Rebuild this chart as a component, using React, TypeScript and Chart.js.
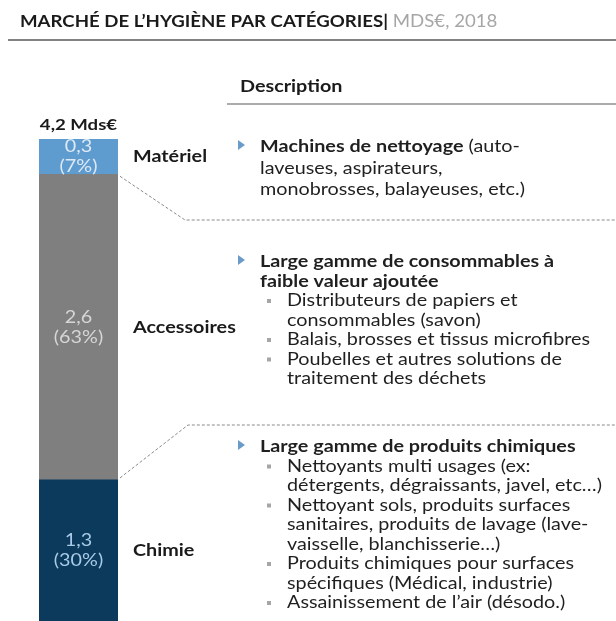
import React, { useEffect, useRef } from "react";
import { Chart, registerables } from "chart.js";

Chart.register(...registerables);

// ---- data ----
const categories = ["Chimie", "Accessoires", "Matériel"];
const values = [1.3, 2.6, 0.3];
const valueLabels = ["1,3", "2,6", "0,3"];
const shareLabels = ["(30%)", "(63%)", "(7%)"];
const totalLabel = "4,2 Mds€";
const titleMain = "MARCHÉ DE L’HYGIÈNE PAR CATÉGORIES|";
const titleSub = " MDS€, 2018";
const descHeader = "Description";

const materielBold = "Machines de nettoyage";
const materielRest = [" (auto-", "laveuses, aspirateurs,", "monobrosses, balayeuses, etc.)"];

const accessoiresHead = ["Large gamme de consommables à", "faible valeur ajoutée"];
const accessoiresBullets = [
  ["Distributeurs de papiers et", "consommables (savon)"],
  ["Balais, brosses et tissus microfibres"],
  ["Poubelles et autres solutions de", "traitement des déchets"],
];

const chimieHead = ["Large gamme de produits chimiques"];
const chimieBullets = [
  ["Nettoyants multi usages (ex:", "détergents, dégraissants, javel, etc…)"],
  ["Nettoyant sols, produits surfaces", "sanitaires, produits de lavage (lave-", "vaisselle, blanchisserie…)"],
  ["Produits chimiques pour surfaces", "spécifiques (Médical, industrie)"],
  ["Assainissement de l’air (désodo.)"],
];

// ---- styles ----
const segColors = ["#0b3a5c", "#7f7f7f", "#5e9bcf"];
const segTextColors = ["#a9cbe6", "#d6d6d6", "#dde9f5"];
const FONT = "Lato, 'Liberation Sans', sans-serif";

export default function App() {
  const ref = useRef<HTMLCanvasElement | null>(null);

  useEffect(() => {
    if (!ref.current) return;

    const overlay = {
      id: "overlay",
      afterDraw(chart: any) {
        const ctx: CanvasRenderingContext2D = chart.ctx;
        const ys = chart.scales.y;
        const area = chart.chartArea;
        const barL = area.left;
        const barR = area.right;
        const barC = (barL + barR) / 2;

        // horizontal stretch factor to mimic the reference typography
        ctx.font = `17px ${FONT}`;
        const sx = 303 / ctx.measureText("Balais, brosses et tissus microfibres").width;
        ctx.font = `bold 17px ${FONT}`;
        const sxTitle = 368 / ctx.measureText(titleMain).width;

        const txt = (t: string, x: number, y: number, font: string, color: string, align: CanvasTextAlign = "left", s = sx) => {
          ctx.save();
          ctx.font = font;
          ctx.fillStyle = color;
          ctx.textBaseline = "middle";
          ctx.textAlign = align;
          ctx.translate(x, y);
          ctx.scale(s, 1);
          ctx.fillText(t, 0, 0);
          const w = ctx.measureText(t).width * s;
          ctx.restore();
          return w;
        };

        // title
        const wMain = txt(titleMain, 20, 22, `bold 17px ${FONT}`, "#1a1a1a", "left", sxTitle);
        txt(titleSub, 20 + wMain, 22, `17px ${FONT}`, "#a6a6a6", "left", sxTitle);
        ctx.save();
        ctx.strokeStyle = "#595959";
        ctx.lineWidth = 1.5;
        ctx.beginPath();
        ctx.moveTo(8, 40);
        ctx.lineTo(616, 40);
        ctx.stroke();
        ctx.restore();

        // description header
        txt(descHeader, 240, 87, `bold 17px ${FONT}`, "#1a1a1a");
        ctx.save();
        ctx.strokeStyle = "#595959";
        ctx.lineWidth = 1.2;
        ctx.beginPath();
        ctx.moveTo(227, 104);
        ctx.lineTo(616, 104);
        ctx.stroke();
        ctx.restore();

        // total
        txt(totalLabel, barC, 125, `bold 16px ${FONT}`, "#1a1a1a", "center");

        // segment labels & category labels
        let cum = 0;
        const boundaries: number[] = [];
        for (let i = 0; i < values.length; i++) {
          const lo = Math.max(cum, ys.min);
          const hi = cum + values[i];
          cum = hi;
          boundaries.push(hi);
          const yc = (ys.getPixelForValue(lo) + ys.getPixelForValue(hi)) / 2;
          txt(valueLabels[i], barC, yc - 10, `17px ${FONT}`, segTextColors[i], "center");
          txt(shareLabels[i], barC, yc + 10, `17px ${FONT}`, segTextColors[i], "center");
          txt(categories[i], 133, yc, `bold 17px ${FONT}`, "#1a1a1a", "left");
        }

        // dotted connectors
        const dotted = (pts: number[][]) => {
          ctx.save();
          ctx.strokeStyle = "#8a8a8a";
          ctx.lineWidth = 1;
          ctx.setLineDash([3, 2]);
          ctx.beginPath();
          ctx.moveTo(pts[0][0], pts[0][1]);
          for (let k = 1; k < pts.length; k++) ctx.lineTo(pts[k][0], pts[k][1]);
          ctx.stroke();
          ctx.restore();
        };
        const yTopAcc = ys.getPixelForValue(boundaries[1]);
        const yTopChim = ys.getPixelForValue(boundaries[0]);
        dotted([[barR + 2, yTopAcc + 2], [185, 220], [616, 220]]);
        dotted([[barR + 2, yTopChim - 2], [188, 425], [616, 425]]);

        // bullets
        const tri = (y: number) => {
          ctx.save();
          ctx.fillStyle = "#6a9cc9";
          ctx.beginPath();
          ctx.moveTo(238, y - 5);
          ctx.lineTo(245, y);
          ctx.lineTo(238, y + 5);
          ctx.closePath();
          ctx.fill();
          ctx.restore();
        };
        const sq = (y: number) => {
          ctx.save();
          ctx.fillStyle = "#a6a6a6";
          ctx.fillRect(267, y - 2, 4, 4);
          ctx.restore();
        };
        const body = `17px ${FONT}`;
        const bold = `bold 17px ${FONT}`;
        const dark = "#1f1f1f";

        // Matériel block
        let y = 147;
        tri(y - 2);
        const wb = txt(materielBold, 260, y, bold, dark);
        txt(materielRest[0], 260 + wb, y, body, dark);
        txt(materielRest[1], 260, y + 21.5, body, dark);
        txt(materielRest[2], 260, y + 43, body, dark);

        // Accessoires block
        const lh = 19.5;
        y = 262;
        tri(y - 2);
        accessoiresHead.forEach((t, i) => txt(t, 260, y + i * lh, bold, dark));
        let line = accessoiresHead.length;
        accessoiresBullets.forEach((b) => {
          sq(y + line * lh);
          b.forEach((t) => {
            txt(t, 287, y + line * lh, body, dark);
            line++;
          });
        });

        // Chimie block
        y = 447;
        tri(y - 2);
        chimieHead.forEach((t, i) => txt(t, 260, y + i * lh, bold, dark));
        line = chimieHead.length;
        chimieBullets.forEach((b) => {
          sq(y + line * lh);
          b.forEach((t) => {
            txt(t, 287, y + line * lh, body, dark);
            line++;
          });
        });
      },
    };

    const chart = new Chart(ref.current, {
      type: "bar",
      data: {
        labels: [""],
        datasets: categories.map((c, i) => ({
          label: c,
          data: [values[i]],
          backgroundColor: segColors[i],
          borderWidth: 0,
          barPercentage: 1,
          categoryPercentage: 1,
          stack: "s",
        })),
      },
      options: {
        responsive: false,
        animation: false,
        layout: { padding: { left: 39, right: 498, top: 139, bottom: 0 } },
        scales: {
          x: { display: false, stacked: true },
          y: { display: false, stacked: true, min: 0.1, max: 4.2 },
        },
        plugins: { legend: { display: false }, tooltip: { enabled: false } },
      },
      plugins: [overlay],
    });
    return () => chart.destroy();
  }, []);

  return (
    <div style={{ position: "absolute", left: 0, top: 0, width: 616, height: 621, background: "#fff" }}>
      <canvas ref={ref} width={616} height={621} style={{ display: "block" }} />
    </div>
  );
}
